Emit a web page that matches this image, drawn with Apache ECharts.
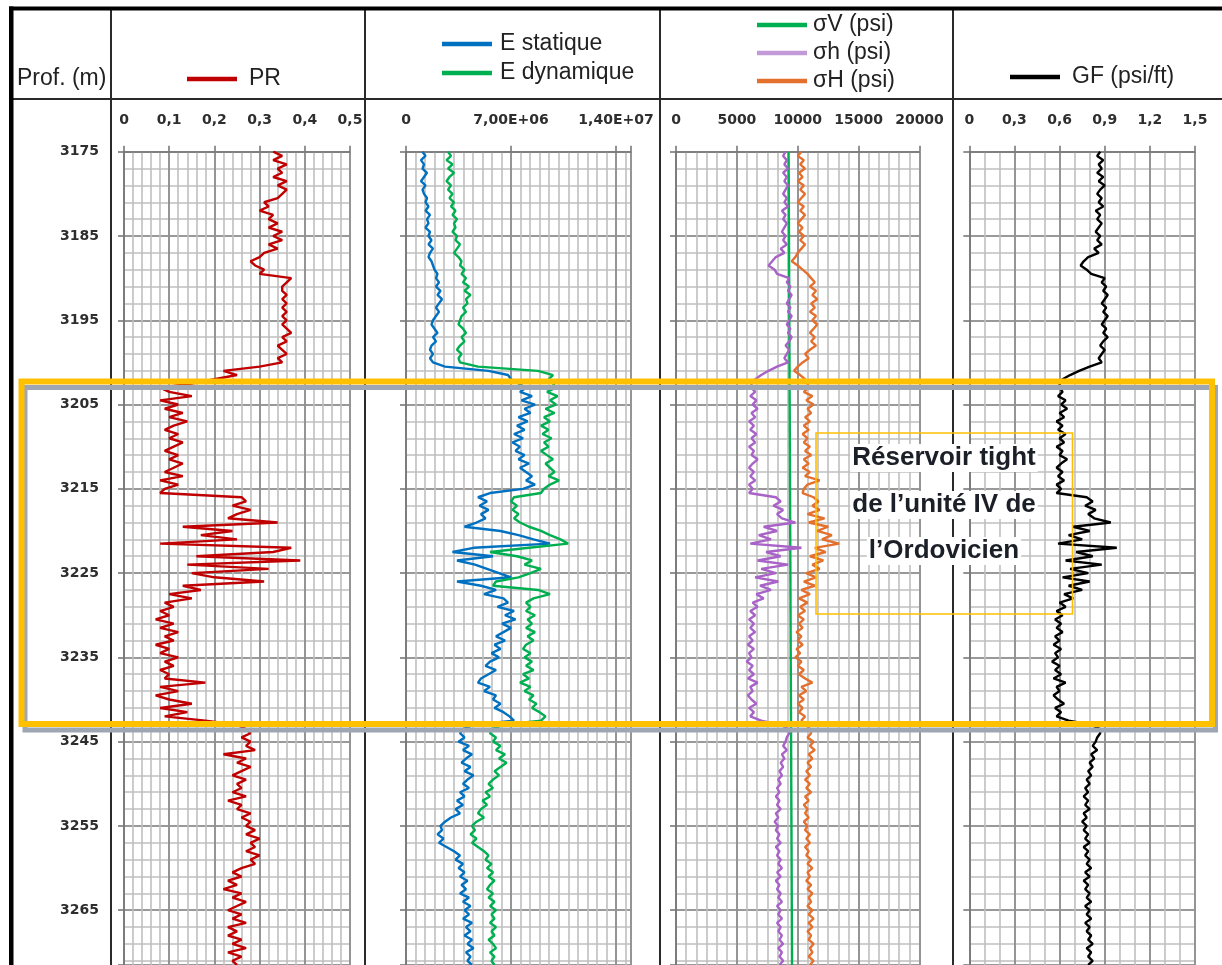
<!DOCTYPE html>
<html><head><meta charset="utf-8">
<script src="https://cdn.jsdelivr.net/npm/echarts@6.0.0/dist/echarts.min.js"></script>
<style>html,body{margin:0;padding:0;background:#fff}#c{width:1222px;height:965px}</style>
</head><body><div id="c"></div><script>
// ---- depth samples (m)
const DEPTH = [
3175,3175.5,3176,3176.5,3177,3177.5,3178,3178.5,3179,3179.5,3180,3180.5,3181,3181.5,3182,3182.5,3183,3183.5,3184,3184.5,
3185,3185.5,3186,3186.5,3187,3187.5,3188,3188.5,3189,3189.5,3190,3190.5,3191,3191.5,3192,3192.5,3193,3193.5,3194,3194.5,
3195,3195.5,3196,3196.5,3197,3197.5,3198,3198.5,3199,3199.5,3200,3200.5,3201,3201.5,3202,3202.5,3203,3203.5,3204,3204.5,
3205,3205.5,3206,3206.5,3207,3207.5,3208,3208.5,3209,3209.5,3210,3210.5,3211,3211.5,3212,3212.5,3213,3213.5,3214,3214.5,
3215,3215.5,3216,3216.5,3217,3217.5,3218,3218.5,3219,3219.5,3220,3220.5,3221,3221.5,3222,3222.5,3223,3223.5,3224,3224.5,
3225,3225.5,3226,3226.5,3227,3227.5,3228,3228.5,3229,3229.5,3230,3230.5,3231,3231.5,3232,3232.5,3233,3233.5,3234,3234.5,
3235,3235.5,3236,3236.5,3237,3237.5,3238,3238.5,3239,3239.5,3240,3240.5,3241,3241.5,3242,3242.5,3243,3243.5,3244,3244.5,
3245,3245.5,3246,3246.5,3247,3247.5,3248,3248.5,3249,3249.5,3250,3250.5,3251,3251.5,3252,3252.5,3253,3253.5,3254,3254.5,
3255,3255.5,3256,3256.5,3257,3257.5,3258,3258.5,3259,3259.5,3260,3260.5,3261,3261.5,3262,3262.5,3263,3263.5,3264,3264.5,
3265,3265.5,3266,3266.5,3267,3267.5,3268,3268.5,3269,3269.5,3270,3270.5,3271,3271.5];

// ---- Poisson ratio
const PR = [
0.33,0.35,0.33,0.36,0.34,0.35,0.33,0.36,0.34,0.36,0.35,0.34,0.31,0.32,0.30,0.33,0.32,0.34,0.32,0.35,
0.33,0.35,0.32,0.34,0.31,0.30,0.28,0.29,0.31,0.30,0.37,0.36,0.35,0.35,0.36,0.35,0.36,0.35,0.36,0.35,
0.36,0.35,0.36,0.37,0.35,0.36,0.34,0.35,0.36,0.34,0.35,0.30,0.22,0.25,0.20,0.15,0.08,0.10,0.15,0.08,
0.12,0.09,0.13,0.10,0.14,0.11,0.09,0.12,0.10,0.13,0.11,0.09,0.12,0.10,0.13,0.11,0.09,0.13,0.08,0.12,
0.09,0.08,0.26,0.27,0.24,0.28,0.25,0.23,0.34,0.13,0.24,0.17,0.25,0.08,0.37,0.33,0.16,0.39,0.14,0.32,
0.15,0.20,0.31,0.13,0.17,0.10,0.15,0.09,0.11,0.08,0.10,0.07,0.11,0.08,0.12,0.09,0.11,0.07,0.10,0.08,
0.12,0.09,0.11,0.08,0.10,0.09,0.18,0.08,0.12,0.07,0.10,0.15,0.08,0.14,0.09,0.18,0.25,0.27,0.28,0.26,
0.28,0.27,0.29,0.22,0.27,0.25,0.28,0.26,0.24,0.27,0.25,0.26,0.24,0.27,0.23,0.26,0.25,0.28,0.26,0.28,
0.27,0.29,0.27,0.30,0.28,0.29,0.27,0.30,0.28,0.29,0.26,0.24,0.26,0.23,0.25,0.22,0.26,0.24,0.27,0.25,
0.23,0.26,0.24,0.27,0.23,0.25,0.23,0.26,0.24,0.27,0.23,0.26,0.24,0.25];

// ---- Young's modulus, in millions (x 1E+06)
const E_STAT = [
1.1,1.3,1.0,1.2,1.1,1.4,1.2,1.0,1.3,1.1,1.2,1.4,1.3,1.5,1.3,1.6,1.4,1.5,1.3,1.6,
1.5,1.7,1.5,1.8,1.6,1.5,1.7,1.8,1.9,2.1,2.0,2.2,2.0,2.3,2.1,2.4,2.2,2.0,2.2,2.0,
1.8,1.7,1.9,2.1,1.8,2.0,1.7,1.6,1.8,1.6,1.8,2.6,5.5,6.8,7.0,7.5,8.0,7.6,8.4,7.7,
8.6,7.9,8.3,7.5,8.1,7.4,7.9,7.2,7.8,7.1,7.6,7.3,7.9,7.5,8.2,7.6,8.0,8.4,8.0,8.6,
7.8,5.6,4.8,5.4,4.9,5.5,5.0,5.3,4.7,3.9,6.3,7.5,8.5,9.6,4.5,3.1,5.8,3.4,4.6,5.4,
6.2,7.0,3.4,5.0,6.0,5.2,6.5,6.8,6.1,7.2,6.6,7.3,6.4,7.0,6.5,6.0,6.6,5.9,6.3,5.7,
6.2,5.6,5.3,6.0,5.5,5.0,4.8,5.6,5.2,6.0,5.8,6.3,5.9,6.5,6.9,7.2,4.5,3.8,3.6,3.9,
3.5,4.2,3.8,4.4,4.0,3.7,4.3,3.9,4.5,4.1,3.8,4.2,3.6,3.9,3.4,3.8,3.3,3.6,3.0,2.6,
2.3,2.4,2.1,2.5,2.2,2.7,3.2,3.6,3.3,3.8,3.5,3.9,3.6,4.1,3.7,4.0,3.6,4.2,3.8,4.3,
3.9,4.2,3.8,4.4,4.0,4.3,3.9,4.4,4.1,4.5,4.0,4.3,4.1,4.4];
const E_DYN = [
2.8,3.0,2.7,3.1,2.8,3.2,2.9,2.7,3.0,2.8,3.1,2.9,3.2,3.0,3.3,3.1,3.4,3.2,3.3,3.1,
3.4,3.3,3.6,3.4,3.2,3.5,3.7,3.6,3.9,3.7,4.0,3.8,4.2,3.9,4.3,4.0,4.1,3.8,4.0,3.7,
3.6,3.5,3.8,4.0,3.7,3.9,3.6,3.4,3.7,3.5,3.6,4.8,8.8,9.8,9.5,9.8,10.0,9.4,10.1,9.6,
10.0,9.3,9.9,9.2,9.6,9.0,9.5,9.1,9.7,9.2,9.5,9.0,9.4,9.8,9.3,9.6,9.9,9.5,10.2,9.6,
9.2,9.0,7.2,7.0,7.4,7.1,7.5,7.2,7.6,8.2,9.0,9.6,10.3,10.8,8.2,5.6,7.4,8.4,7.9,9.0,
8.3,7.5,6.0,5.8,8.8,9.6,8.5,8.0,8.3,8.0,8.6,8.1,8.4,8.0,8.6,8.1,8.5,8.0,7.8,8.3,
7.9,8.4,8.0,8.5,7.8,8.2,7.6,8.3,7.9,8.5,8.2,8.7,8.4,8.9,9.3,9.0,6.5,5.7,5.6,6.0,
5.8,6.3,6.0,6.6,6.2,6.7,6.3,5.9,6.2,5.8,5.5,5.8,5.3,5.6,5.1,5.4,5.0,4.8,5.2,4.7,
4.4,4.6,4.3,4.7,4.4,4.8,5.2,5.5,5.3,5.7,5.4,5.8,5.5,5.9,5.6,5.4,5.8,5.5,5.9,5.6,
6.0,5.7,5.9,5.6,6.0,5.7,5.9,5.5,5.8,6.0,5.6,5.9,5.7,5.9];

// ---- stresses (psi)
const SIGV_DEPTH = [3175, 3271.5];
const SIGV = [9250, 9530];
const SIGH_MIN = [
9000,8800,9100,8900,9200,8800,9100,8900,9200,9000,8800,9100,8900,9200,8700,9000,8800,9100,8900,8700,
9000,8800,9100,8600,8900,8200,7900,7600,8100,8300,9300,9100,9400,9200,9500,9300,9100,9400,9200,9500,
9300,9100,9400,9200,9500,9300,9000,9300,9100,8900,9200,8300,7600,7000,6500,6200,6200,6500,6100,6600,
6300,6700,6200,6500,6000,6400,6100,6600,6200,6500,6000,6400,6200,6700,6300,6000,6400,6100,6500,6000,
6300,6000,8200,8600,8000,8800,8300,8700,9800,7200,8300,6800,7800,6100,10300,7400,8600,6700,9200,7000,
8200,6500,8400,6900,7800,6600,7200,6300,6700,6100,6500,6000,6400,6100,6500,6000,6300,5900,6400,6000,
6200,5800,6300,6000,6400,5900,6700,6100,6300,5900,6200,6600,6000,6400,6100,7000,8600,9200,9300,9100,
9000,8800,9100,8700,8900,8600,8800,8500,8700,8400,8600,8300,8500,8200,8500,8300,8600,8200,8400,8100,
8400,8200,8500,8300,8600,8200,8500,8300,8600,8400,8700,8300,8600,8200,8500,8300,8600,8400,8700,8300,
8600,8400,8700,8300,8600,8400,8700,8500,8800,8400,8700,8500,8800,8500];
const SIGH_MAX = [
10300,10000,10500,10200,10600,10100,10400,10000,10500,10200,10600,10300,10000,10500,10200,10600,10300,10000,10400,10100,
10500,10200,10600,10300,10000,9800,9500,10000,10400,10800,11100,11400,11000,11500,11200,11600,11100,11400,11000,11500,
11200,11600,11300,11000,11400,11100,11500,11000,10600,10900,10400,10000,9700,10200,10600,10800,10900,10500,11200,10700,
11300,10800,11100,10600,11000,10500,10900,10400,10800,10500,11000,10600,11100,10500,10900,10400,11000,10600,11800,10800,
10500,10400,11300,11700,11200,11800,10800,12200,10900,12500,11600,12800,12000,13400,11400,12300,11000,12100,11200,11800,
10700,11500,10500,11400,10300,11000,10100,10800,10200,10600,10000,10500,10100,10400,9900,10300,10000,10400,9900,10200,
9800,10300,10000,10500,10100,10600,11200,10300,10700,10100,10500,10000,10400,10100,10600,10300,10700,11000,11100,10800,
11300,11000,11400,10900,11200,10800,11100,10700,11000,10600,11000,10700,11100,10600,10900,10500,10800,10600,10900,10500,
10800,10600,11000,10700,11000,10600,10900,10700,11100,10800,11200,10800,11000,10700,11100,10800,11200,10900,11100,10800,
11200,10900,11300,10900,11200,10800,11100,10900,11300,11000,11200,10900,11300,11000];

// ---- fracture gradient (psi/ft)
const GF = [
0.87,0.85,0.89,0.86,0.88,0.85,0.89,0.86,0.90,0.87,0.85,0.88,0.86,0.89,0.84,0.87,0.85,0.88,0.86,0.84,
0.87,0.85,0.88,0.83,0.86,0.79,0.76,0.74,0.78,0.81,0.90,0.88,0.91,0.89,0.92,0.90,0.88,0.91,0.89,0.92,
0.90,0.88,0.91,0.89,0.92,0.89,0.87,0.90,0.88,0.86,0.88,0.80,0.73,0.67,0.62,0.60,0.60,0.62,0.59,0.64,
0.61,0.65,0.60,0.63,0.58,0.62,0.59,0.64,0.60,0.63,0.58,0.62,0.60,0.65,0.61,0.58,0.62,0.59,0.63,0.58,
0.61,0.58,0.78,0.82,0.77,0.84,0.79,0.83,0.94,0.69,0.80,0.66,0.75,0.59,0.98,0.71,0.82,0.64,0.88,0.67,
0.79,0.62,0.80,0.66,0.75,0.63,0.69,0.60,0.64,0.58,0.62,0.57,0.61,0.58,0.62,0.57,0.60,0.56,0.61,0.57,
0.59,0.55,0.60,0.57,0.61,0.56,0.64,0.58,0.60,0.56,0.59,0.63,0.57,0.61,0.58,0.66,0.81,0.87,0.87,0.85,
0.84,0.82,0.85,0.81,0.83,0.80,0.82,0.79,0.81,0.78,0.80,0.77,0.79,0.76,0.79,0.77,0.80,0.76,0.78,0.75,
0.78,0.76,0.79,0.77,0.80,0.76,0.79,0.77,0.80,0.78,0.81,0.77,0.80,0.76,0.79,0.77,0.80,0.78,0.81,0.77,
0.80,0.78,0.81,0.77,0.80,0.78,0.81,0.79,0.82,0.78,0.81,0.79,0.82,0.79];

// ---- tick labels
const DEPTH_TICKS = ['3175','3185','3195','3205','3215','3225','3235','3245','3255','3265'];
const PR_TICKS = ['0','0,1','0,2','0,3','0,4','0,5'];
const E_TICKS = ['0','7,00E+06','1,40E+07'];
const SIG_TICKS = ['0','5000','10000','15000','20000'];
const GF_TICKS = ['0','0,3','0,6','0,9','1,2','1,5'];

// ---- layout / style (not data)
const TOP_DEPTH = 3175, SPAN = 96.5;
const GRID_TOP = 151.7, GRID_H = 813.3;
const E_UNIT = 1e6;
const TRACKS = [
  {left:124,   width:226,   max:0.5,   major:0.1,  minorN:5,  labels:PR_TICKS},
  {left:406,   width:225,   max:1.5e7, major:7e6,  minorN:11, labels:E_TICKS},
  {left:676,   width:243.5, max:20000, major:5000, minorN:6,  labels:SIG_TICKS},
  {left:969.3, width:225.7, max:1.5,   major:0.3,  minorN:3,  labels:GF_TICKS}
];
const MINOR_C = '#bfbfbf', MAJOR_C = '#878787', AXIS_C = '#777';
const GW = 1.6;
const LBL = {fontFamily:'DejaVu Sans', fontWeight:'bold', fontSize:14, color:'#2e2e2e'};

function tickFmt(major, labels){
  return v => { const k = Math.round(v/major); return Math.abs(v-k*major) < major*1e-6 ? (labels[k] ?? '') : ''; };
}

const grid = [], xAxis = [], yAxis = [];
TRACKS.forEach((t,i) => {
  grid.push({left:t.left, top:GRID_TOP, width:t.width, height:GRID_H, containLabel:false, outerBoundsMode:'none'});
  xAxis.push({gridIndex:i, type:'value', position:'top', min:0, max:t.max, interval:t.major/t.minorN,
    axisLine:{show:false}, axisTick:{show:false}, axisLabel:{show:false},
    splitLine:{show:true, lineStyle:{color:MINOR_C, width:GW}}});
  xAxis.push({gridIndex:i, type:'value', position:'top', min:0, max:t.max, interval:t.major,
    axisLine:{show:true, onZero:false, lineStyle:{color:AXIS_C, width:GW}},
    axisTick:{show:true, inside:false, length:6, lineStyle:{color:AXIS_C, width:GW}},
    axisLabel:Object.assign({show:true, margin:24, formatter:tickFmt(t.major, t.labels)}, LBL),
    splitLine:{show:true, lineStyle:{color:MAJOR_C, width:GW}}});
  yAxis.push({gridIndex:i, type:'value', position:'left', inverse:true, min:0, max:SPAN, interval:2,
    axisLine:{show:false}, axisTick:{show:false}, axisLabel:{show:false},
    splitLine:{show:true, lineStyle:{color:MINOR_C, width:GW}}});
  yAxis.push({gridIndex:i, type:'value', position:'left', inverse:true, min:0, max:SPAN, interval:10,
    axisLine:{show:true, onZero:false, lineStyle:{color:AXIS_C, width:GW}},
    axisTick:{show:true, inside:false, length:6, lineStyle:{color:AXIS_C, width:GW}},
    axisLabel: i===0 ? Object.assign({show:true, margin:25, formatter:tickFmt(10, DEPTH_TICKS)}, LBL) : {show:false},
    splitLine:{show:true, lineStyle:{color:MAJOR_C, width:GW}}});
});

function mk(name, track, vals, depths, color, unit){
  return {name, type:'line', xAxisIndex:2*track+1, yAxisIndex:2*track+1,
    data: vals.map((v,k)=>[v*(unit||1), depths[k]-TOP_DEPTH]),
    showSymbol:false, symbol:'none', clip:true, z:3, animation:false,
    lineStyle:{width:2.4, color}, itemStyle:{color}};
}
const series = [
  mk('PR', 0, PR, DEPTH, '#c00000'),
  mk('E statique', 1, E_STAT, DEPTH, '#0070c0', E_UNIT),
  mk('E dynamique', 1, E_DYN, DEPTH, '#00b050', E_UNIT),
  mk('σV (psi)', 2, SIGV, SIGV_DEPTH, '#00b050'),
  mk('σh (psi)', 2, SIGH_MIN, DEPTH, '#a862c8'),
  mk('σH (psi)', 2, SIGH_MAX, DEPTH, '#e4702e'),
  mk('GF (psi/ft)', 3, GF, DEPTH, '#000000')
];

const LEG_TXT = {fontFamily:'Liberation Sans', fontSize:23, color:'#222', lineHeight:26};
function leg(data, left, top, gap, pad){
  return {data, left, top, orient:'vertical', itemGap:gap, icon:'rect', itemWidth:50, itemHeight:4.5,
    selectedMode:false, textStyle:Object.assign({padding:[0,0,0,pad]}, LEG_TXT)};
}
const legend = [
  leg(['PR'], 182, 61, 0, 7),
  leg(['E statique','E dynamique'], 437, 26, 3, 3),
  leg(['σV (psi)', {name:'σh (psi)', itemStyle:{color:'#c39ad8'}}, 'σH (psi)'], 752, 7, 2, 1),
  leg(['GF (psi/ft)'], 1005, 59, 0, 7)
];

const DARK = '#2a2a2a';
const vline = x => ({type:'line', shape:{x1:x, y1:8, x2:x, y2:965}, style:{stroke:DARK, lineWidth:2}, z:50});
const NOTE_FONT = 'bold 26px "Liberation Sans"';
const note = (txt, y) => ({type:'text', x:944, y, z:120, style:{text:txt, font:NOTE_FONT, fill:'#1b1f27',
  align:'center', verticalAlign:'middle', backgroundColor:'#fff', padding:[1,2]}});
const graphic = [
  {type:'rect', shape:{x:9, y:6.5, width:1213, height:4}, style:{fill:'#000'}, z:60},
  {type:'rect', shape:{x:9, y:6.5, width:4.5, height:960}, style:{fill:'#000'}, z:60},
  vline(111), vline(365), vline(660), vline(953),
  {type:'line', shape:{x1:13, y1:99, x2:1222, y2:99}, style:{stroke:DARK, lineWidth:2}, z:50},
  {type:'text', x:17, y:79, z:50, style:{text:'Prof. (m)', font:'23px "Liberation Sans"', fill:'#222', verticalAlign:'middle'}},
  {type:'rect', shape:{x:25, y:387.5, width:1190.5, height:342.5}, style:{fill:null, stroke:'#9ea6b3', lineWidth:5}, z:90},
  {type:'rect', shape:{x:21.5, y:381.5, width:1190.5, height:342.5}, style:{fill:null, stroke:'#ffc000', lineWidth:6}, z:100},
  {type:'rect', shape:{x:816, y:433, width:256.5, height:181}, style:{fill:null, stroke:'#ffc000', lineWidth:1.6}, z:110},
  note('Réservoir tight', 458), note('de l’unité IV de', 505), note('l’Ordovicien', 551)
];

const chart = echarts.init(document.getElementById('c'), null, {renderer:'canvas'});
chart.setOption({animation:false, backgroundColor:'#fff', grid, xAxis, yAxis, series, legend, graphic});
</script></body></html>
